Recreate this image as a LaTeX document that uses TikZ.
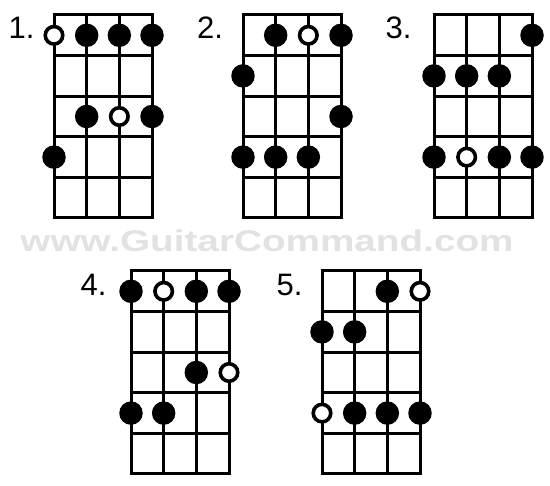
\documentclass[tikz,border=0pt]{standalone}
\usepackage{fontspec}
\setmainfont{Liberation Sans}
\usepackage{tikz}
\definecolor{wm_grey}{RGB}{226, 226, 226}
\tikzstyle{fret}=[draw=black,line width=3pt,line cap=rect]
\tikzstyle{fd}=[circle,fill=black,inner sep=0pt,minimum size=23.5pt]
\tikzstyle{od}=[circle,fill=white,draw=black,
  line width=3.6pt,inner sep=0pt,minimum size=17.5pt]
\tikzstyle{num}=[inner sep=0pt,font=\fontsize{31}{31}\selectfont]
\tikzstyle{wm}=[inner sep=0pt,text=wm_grey,xscale=1.29,
  font=\fontsize{30}{30}\selectfont\bfseries]
\tikzstyle{none}=[]
\newcommand{\fretgrid}{%
  \draw [style=fret] (0,0) rectangle (3,5)
    (1,0) -- (1,5) (2,0) -- (2,5)
    (0,1) -- (3,1) (0,2) -- (3,2) (0,3) -- (3,3) (0,4) -- (3,4);}

\begin{document}
\begin{tikzpicture}[x=1pt,y=-1pt]
            \useasboundingbox (0,0) rectangle (550,486);
            \node [style=wm] (0) at (267, 241) {www.GuitarCommand.com};
            % shape 1
            \node [style=num] (1) at (21.5, 28) {1.};
            \begin{scope}[shift={(54,15)},x=32.67pt,y=-40.6pt]
            \fretgrid
            \node [style=od] (2) at (0, 0.5) {};
            \node [style=fd] (3) at (1, 0.5) {};
            \node [style=fd] (4) at (2, 0.5) {};
            \node [style=fd] (5) at (3, 0.5) {};
            \node [style=fd] (6) at (1, 2.5) {};
            \node [style=od] (7) at (2, 2.5) {};
            \node [style=fd] (8) at (3, 2.5) {};
            \node [style=fd] (9) at (0, 3.5) {};
            \end{scope}
            % shape 2
            \node [style=num] (10) at (210, 28) {2.};
            \begin{scope}[shift={(243,15)},x=32.67pt,y=-40.6pt]
            \fretgrid
            \node [style=fd] (11) at (1, 0.5) {};
            \node [style=od] (12) at (2, 0.5) {};
            \node [style=fd] (13) at (3, 0.5) {};
            \node [style=fd] (14) at (0, 1.5) {};
            \node [style=fd] (15) at (3, 2.5) {};
            \node [style=fd] (16) at (0, 3.5) {};
            \node [style=fd] (17) at (1, 3.5) {};
            \node [style=fd] (18) at (2, 3.5) {};
            \end{scope}
            % shape 3
            \node [style=num] (19) at (398.5, 28) {3.};
            \begin{scope}[shift={(434,15)},x=32.67pt,y=-40.6pt]
            \fretgrid
            \node [style=fd] (20) at (3, 0.5) {};
            \node [style=fd] (21) at (0, 1.5) {};
            \node [style=fd] (22) at (1, 1.5) {};
            \node [style=fd] (23) at (2, 1.5) {};
            \node [style=fd] (24) at (0, 3.5) {};
            \node [style=od] (25) at (1, 3.5) {};
            \node [style=fd] (26) at (2, 3.5) {};
            \node [style=fd] (27) at (3, 3.5) {};
            \end{scope}
            % shape 4
            \node [style=num] (28) at (93.5, 285) {4.};
            \begin{scope}[shift={(131,271)},x=32.67pt,y=-40.6pt]
            \fretgrid
            \node [style=fd] (29) at (0, 0.5) {};
            \node [style=od] (30) at (1, 0.5) {};
            \node [style=fd] (31) at (2, 0.5) {};
            \node [style=fd] (32) at (3, 0.5) {};
            \node [style=fd] (33) at (2, 2.5) {};
            \node [style=od] (34) at (3, 2.5) {};
            \node [style=fd] (35) at (0, 3.5) {};
            \node [style=fd] (36) at (1, 3.5) {};
            \end{scope}
            % shape 5
            \node [style=num] (37) at (289.5, 285) {5.};
            \begin{scope}[shift={(322,271)},x=32.67pt,y=-40.6pt]
            \fretgrid
            \node [style=fd] (38) at (2, 0.5) {};
            \node [style=od] (39) at (3, 0.5) {};
            \node [style=fd] (40) at (0, 1.5) {};
            \node [style=fd] (41) at (1, 1.5) {};
            \node [style=od] (42) at (0, 3.5) {};
            \node [style=fd] (43) at (1, 3.5) {};
            \node [style=fd] (44) at (2, 3.5) {};
            \node [style=fd] (45) at (3, 3.5) {};
            \end{scope}
\end{tikzpicture}
\end{document}
